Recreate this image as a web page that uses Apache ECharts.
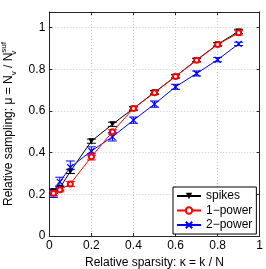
<!DOCTYPE html>
<html><head><meta charset="utf-8">
<script src="https://cdn.jsdelivr.net/npm/echarts@6/dist/echarts.min.js"></script>
<style>html,body{margin:0;padding:0;background:#fff}#c{width:266px;height:269px}</style>
</head><body><div id="c"></div>
<script>
var kappa = [0.02,0.05,0.1,0.2,0.3,0.4,0.5,0.6,0.7,0.8,0.9];
var spikes = [0.215,0.23,0.31,0.455,0.536,0.612,0.69,0.766,0.845,0.92,0.982];
var spikesErr = [0.01,0.01,0.01,0.01,0.01,0.008,0.008,0.008,0.008,0.008,0.01];
var onePower = [0.205,0.222,0.25,0.38,0.5,0.612,0.688,0.766,0.843,0.919,0.975];
var onePowerErr = [0.012,0.01,0.012,0.015,0.01,0.008,0.008,0.008,0.008,0.008,0.01];
var twoPower = [0.205,0.26,0.33,0.408,0.476,0.556,0.633,0.716,0.78,0.846,0.922];
var twoPowerErr = [0.02,0.022,0.03,0.02,0.02,0.015,0.015,0.012,0.012,0.01,0.008];
var xTicks = [0,0.2,0.4,0.6,0.8,1];
var yTicks = [0,0.2,0.4,0.6,0.8,1];

function pairs(ys){return kappa.map(function(x,i){return [x,ys[i]];});}
function errData(ys,es){return kappa.map(function(x,i){return [x,ys[i]-es[i],ys[i]+es[i]];});}
function errSeries(ys,es,color){
  return {type:'custom',xAxisIndex:0,yAxisIndex:0,silent:true,z:1,
    data:errData(ys,es),
    renderItem:function(params,api){
      var lo=api.coord([api.value(0),api.value(1)]);
      var hi=api.coord([api.value(0),api.value(2)]);
      var w=4.5;
      var st={stroke:color,lineWidth:1,fill:null};
      return {type:'group',children:[
        {type:'line',shape:{x1:lo[0],y1:lo[1],x2:hi[0],y2:hi[1]},style:st},
        {type:'line',shape:{x1:lo[0]-w,y1:lo[1],x2:lo[0]+w,y2:lo[1]},style:st},
        {type:'line',shape:{x1:hi[0]-w,y1:hi[1],x2:hi[0]+w,y2:hi[1]},style:st}
      ]};
    }};
}
function fmt(list){return function(v){for(var i=0;i<list.length;i++){if(Math.abs(v-list[i])<1e-6)return String(list[i]);}return '';};}

var font='Liberation Sans';
var axisColor='#262626';
var chart=echarts.init(document.getElementById('c'),null,{renderer:'canvas'});
chart.setOption({
  animation:false,
  textStyle:{fontFamily:font},
  grid:{left:49.3,right:6.3,top:12,bottom:33,containLabel:false,outerBoundsMode:'none'},
  xAxis:[{type:'value',min:0,max:1,interval:0.2,position:'bottom',
    name:'Relative sparsity: κ = k / N',nameLocation:'middle',nameGap:14,
    nameTextStyle:{fontFamily:font,fontSize:12,color:'#000'},
    axisLine:{show:true,lineStyle:{color:axisColor,width:1}},
    axisTick:{show:true,inside:true,length:3,lineStyle:{color:axisColor}},
    axisLabel:{fontFamily:font,fontSize:12,color:'#000',margin:4,formatter:fmt(xTicks)},
    splitLine:{show:true,lineStyle:{color:'#c8c8c8',type:[1,2],width:1}}},
   {type:'value',min:0,max:1,interval:0.2,position:'top',
    axisLine:{show:true,onZero:false,lineStyle:{color:axisColor,width:1}},
    axisTick:{show:true,inside:true,length:3,lineStyle:{color:axisColor}},
    axisLabel:{show:false},splitLine:{show:false}}],
  yAxis:[{type:'value',min:0,max:1.075,interval:0.2,position:'left',
    name:'Relative sampling: μ = N{sub|v} / N{sub0|v}{sup|suf}',nameLocation:'middle',nameGap:30,nameRotate:90,
    nameTextStyle:{fontFamily:font,fontSize:12,color:'#000',lineHeight:18,
      rich:{sub:{fontFamily:font,fontSize:8,verticalAlign:'bottom',lineHeight:18,color:'#000'},
            sub0:{fontFamily:font,fontSize:8,verticalAlign:'bottom',lineHeight:18,width:0,color:'#000'},
            sup:{fontFamily:font,fontSize:8,verticalAlign:'top',lineHeight:18,color:'#000'}}},
    axisLine:{show:true,lineStyle:{color:axisColor,width:1}},
    axisTick:{show:true,inside:true,length:3,lineStyle:{color:axisColor}},
    axisLabel:{fontFamily:font,fontSize:12,color:'#000',margin:4,showMaxLabel:false,formatter:fmt(yTicks)},
    splitLine:{show:true,lineStyle:{color:'#c8c8c8',type:[1,2],width:1}}},
   {type:'value',min:0,max:1.075,interval:0.2,position:'right',
    axisLine:{show:true,onZero:false,lineStyle:{color:axisColor,width:1}},
    axisTick:{show:true,inside:true,length:3,lineStyle:{color:axisColor}},
    axisLabel:{show:false},splitLine:{show:false}}],
  legend:{left:173,top:187,orient:'vertical',itemWidth:24,itemHeight:8,itemGap:2.5,
    padding:[3,4,3,3],borderColor:'#000',borderWidth:1,backgroundColor:'#fff',
    textStyle:{fontFamily:font,fontSize:12,color:'#000',lineHeight:12},
    data:['spikes','1−power','2−power']},
  series:[
    errSeries(twoPower,twoPowerErr,'#0000ff'),
    errSeries(onePower,onePowerErr,'#ff0000'),
    errSeries(spikes,spikesErr,'#000000'),
    {name:'2−power',type:'line',data:pairs(twoPower),z:3,
      symbol:'path://M0,0L10,10M10,0L0,10',symbolSize:6,showAllSymbol:true,
      lineStyle:{color:'#0000ff',width:1},
      itemStyle:{color:'#0000ff',borderColor:'#0000ff',borderWidth:1.2}},
    {name:'1−power',type:'line',data:pairs(onePower),z:4,
      symbol:'emptyCircle',symbolSize:5,showAllSymbol:true,
      lineStyle:{color:'#ff0000',width:1},
      itemStyle:{color:'#ff0000',borderColor:'#ff0000',borderWidth:1}},
    {name:'spikes',type:'line',data:pairs(spikes),z:2,
      symbol:'triangle',symbolRotate:180,symbolSize:6,showAllSymbol:true,
      lineStyle:{color:'#000000',width:1},
      itemStyle:{color:'#000000'}}
  ]
});
</script></body></html>
